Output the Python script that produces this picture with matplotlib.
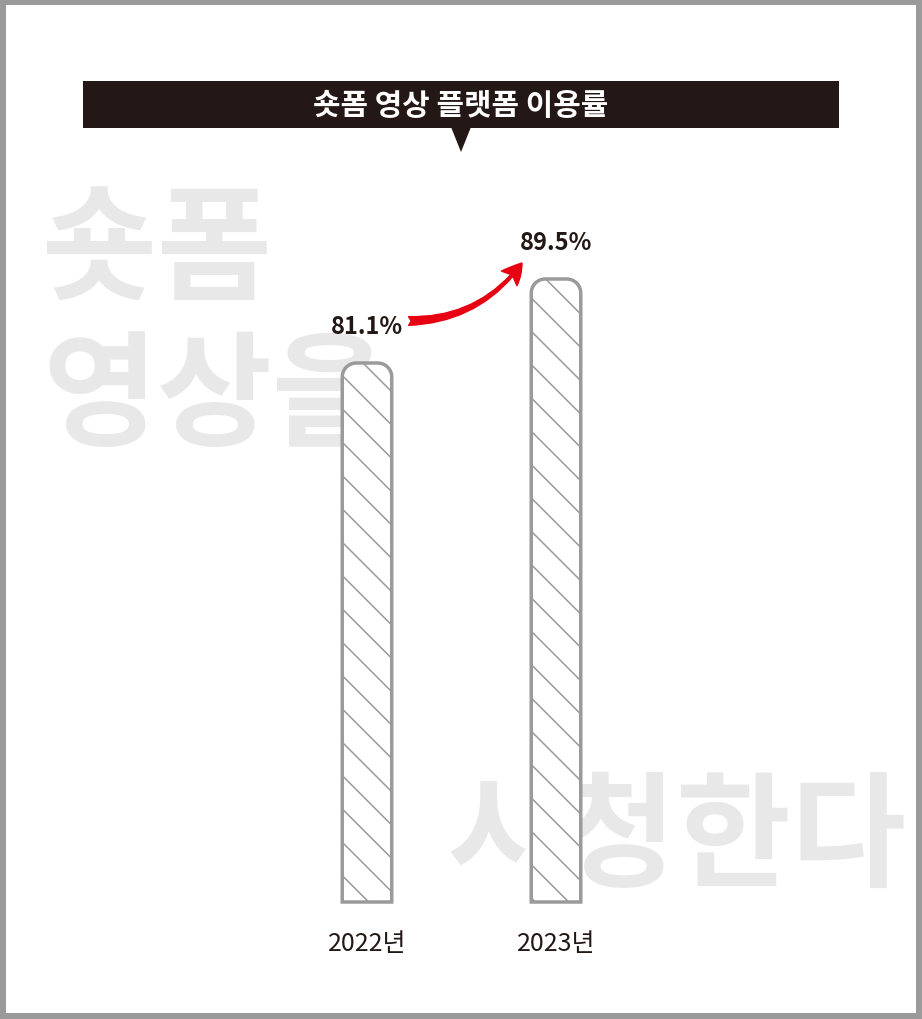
import matplotlib
matplotlib.use("Agg")
import matplotlib.pyplot as plt
from matplotlib.patches import Rectangle, Polygon, PathPatch, FancyArrowPatch
from matplotlib.path import Path

plt.rcParams['font.family'] = ['Noto Sans CJK KR', 'DejaVu Sans']
plt.rcParams['hatch.linewidth'] = 1.1

# ---- data ----
years = ["2022년", "2023년"]
usage = [81.1, 89.5]
title = "숏폼 영상 플랫폼 이용률"
watermark_top = ["숏폼", "영상을"]
watermark_bottom = "시청한다"
Y_MIN = 27.2
Y_MAX = 102.2

W, H = 922, 1020
fig = plt.figure(figsize=(W / 100, H / 100), dpi=100)
fig.patch.set_facecolor("white")

def fx(px):
    return px / W

def fy(py):
    return 1 - py / H

DARK = "#231815"
GRAY = "#9a9a9a"
WM = "#e8e8e8"
RED = "#e60012"

# outer border
fig.patches.append(Rectangle((fx(3), fy(1017)), fx(916), 1014 / H, transform=fig.transFigure,
                             fill=False, edgecolor=GRAY, linewidth=4.3, zorder=0))
# title bar
fig.patches.append(Rectangle((fx(83), fy(129)), fx(756), 47 / H, transform=fig.transFigure,
                             facecolor=DARK, edgecolor="none", zorder=1))
fig.patches.append(Polygon([(fx(451), fy(128)), (fx(471), fy(128)), (fx(461), fy(153))],
                           closed=True, transform=fig.transFigure, facecolor=DARK,
                           edgecolor="none", zorder=1))
fig.text(fx(461), fy(106), title, color="white", fontsize=21.5, fontweight="bold",
         ha="center", va="center", zorder=2)

# axes
ax = fig.add_axes([fx(83), fy(903), fx(756), 750 / H])
ax.set_zorder(2)
ax.patch.set_visible(False)
ax.set_xlim(-(367 - 83) / 189, -(367 - 83) / 189 + 756 / 189)
ax.set_ylim(Y_MIN, Y_MAX)
for s in ax.spines.values():
    s.set_visible(False)
ax.set_yticks([])
ax.set_xticks(range(len(years)), years)
ax.tick_params(axis="x", length=0, pad=20, labelsize=18, labelcolor=DARK)

# watermark texts (behind bars)
for i, t in enumerate(watermark_top):
    fig.text(fx(42), fy(254 + i * 146), t, color=WM, fontsize=90, fontweight="bold",
             ha="left", va="center", zorder=0)
fig.text(fx(446), fy(840), watermark_bottom, color=WM, fontsize=90, fontweight="bold",
         ha="left", va="center", zorder=0)

# bars with rounded top corners
bar_w = 0.262
r_px = 14
sx = ax.transData.transform((1, 0))[0] - ax.transData.transform((0, 0))[0]
sy = ax.transData.transform((0, 1))[1] - ax.transData.transform((0, 0))[1]
rx, ry = r_px / sx, r_px / sy
k = 0.5523
for i, v in enumerate(usage):
    x0, x1 = i - bar_w / 2, i + bar_w / 2
    verts = [
        (x0, Y_MIN), (x0, v - ry),
        (x0, v - ry + k * ry), (x0 + rx - k * rx, v), (x0 + rx, v),
        (x1 - rx, v),
        (x1 - rx + k * rx, v), (x1, v - ry + k * ry), (x1, v - ry),
        (x1, Y_MIN), (x0, Y_MIN),
    ]
    codes = [Path.MOVETO, Path.LINETO,
             Path.CURVE4, Path.CURVE4, Path.CURVE4,
             Path.LINETO,
             Path.CURVE4, Path.CURVE4, Path.CURVE4,
             Path.LINETO, Path.CLOSEPOLY]
    patch = PathPatch(Path(verts, codes), facecolor="white", edgecolor=GRAY,
                      linewidth=2.5, hatch="\\", clip_on=False, zorder=3)
    ax.add_patch(patch)
    ax.annotate(f"{v}%", xy=(i, v), xytext=(0, 30), textcoords="offset pixels",
                ha="center", va="baseline", fontsize=17, fontweight="bold",
                color=DARK, annotation_clip=False)

# red curved arrow between the two values
arrow = FancyArrowPatch((0 + 0.22, usage[0] + 4.2), (1 - 0.18, usage[1] + 1.6),
                        connectionstyle="arc3,rad=0.25",
                        arrowstyle="fancy,head_length=0.8,head_width=0.85,tail_width=0.35",
                        mutation_scale=18, color=RED, shrinkA=0, shrinkB=0,
                        clip_on=False, zorder=4)
ax.add_patch(arrow)

fig.savefig("out.png", dpi=100, facecolor="white")
